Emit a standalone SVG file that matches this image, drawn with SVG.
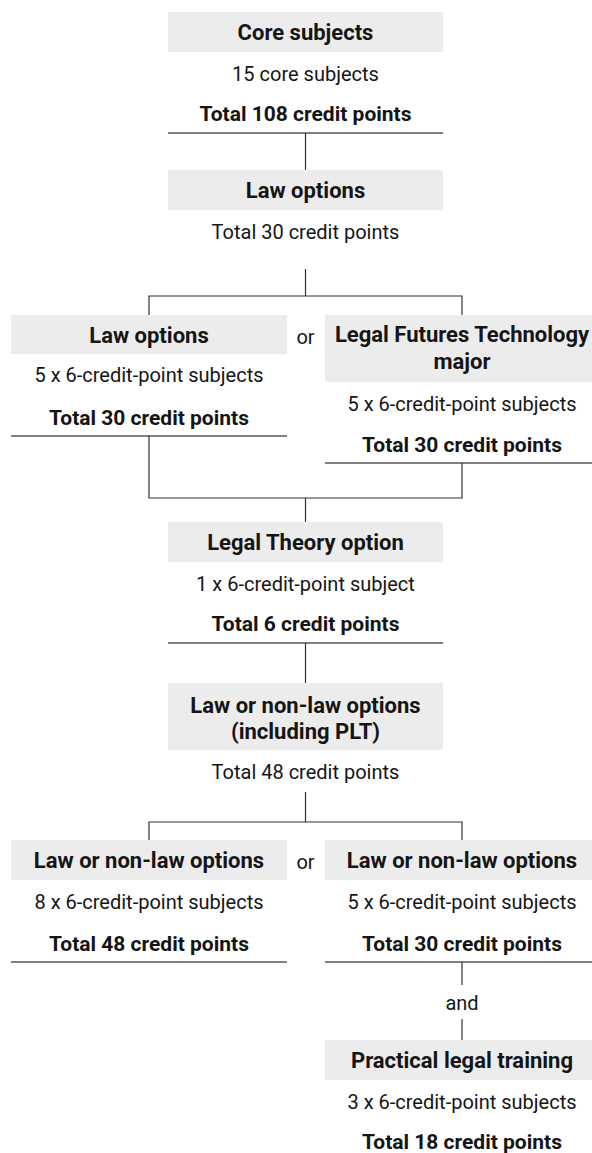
<svg xmlns="http://www.w3.org/2000/svg" width="592" height="1153" viewBox="0 0 592 1153">
<style>
.box{fill:#ececec}
.t{font-family:Roboto,"Liberation Sans",sans-serif;font-size:22px;font-weight:700;fill:#151515;text-anchor:middle}
.s{font-family:Roboto,"Liberation Sans",sans-serif;font-size:20px;font-weight:400;fill:#151515;text-anchor:middle}
.b{font-family:Roboto,"Liberation Sans",sans-serif;font-size:21px;font-weight:700;fill:#151515;text-anchor:middle}
.sep{stroke:#555;stroke-width:1.5;fill:none}
.c{stroke:#333;stroke-width:1.2;fill:none}
</style>
<rect width="592" height="1153" fill="#fff"/>
<g id="core">
<rect class="box" x="168" y="12" width="275" height="40"/>
<text class="t" x="305.5" y="40">Core subjects</text>
<text class="s" x="305.5" y="81">15 core subjects</text>
<text class="b" x="305.5" y="120.5">Total 108 credit points</text>
<line class="sep" x1="168" y1="133" x2="443" y2="133"/>
</g>
<g id="lawoptions">
<rect class="box" x="168" y="170" width="275" height="40"/>
<text class="t" x="305.5" y="198">Law options</text>
<text class="s" x="305.5" y="239">Total 30 credit points</text>
</g>
<g id="lawoptions-left">
<rect class="box" x="11" y="315" width="276" height="39"/>
<text class="t" x="149" y="342.5">Law options</text>
<text class="s" x="149" y="382">5 x 6-credit-point subjects</text>
<text class="b" x="149" y="424.5">Total 30 credit points</text>
<line class="sep" x1="11" y1="436" x2="287" y2="436"/>
</g>
<g id="or1"><text class="s" x="305.5" y="344">or</text></g>
<g id="lft">
<rect class="box" x="325" y="315" width="275" height="67"/>
<text class="t" x="462" y="342">Legal Futures Technology</text>
<text class="t" x="462" y="369">major</text>
<text class="s" x="462" y="411">5 x 6-credit-point subjects</text>
<text class="b" x="462" y="451.5">Total 30 credit points</text>
<line class="sep" x1="325" y1="463" x2="592" y2="463"/>
</g>
<g id="theory">
<rect class="box" x="168" y="522" width="275" height="40"/>
<text class="t" x="305.5" y="550">Legal Theory option</text>
<text class="s" x="305.5" y="591">1 x 6-credit-point subject</text>
<text class="b" x="305.5" y="630.5">Total 6 credit points</text>
<line class="sep" x1="168" y1="643" x2="443" y2="643"/>
</g>
<g id="nonlaw">
<rect class="box" x="168" y="683" width="275" height="67"/>
<text class="t" x="305.5" y="713">Law or non-law options</text>
<text class="t" x="305.5" y="739">(including PLT)</text>
<text class="s" x="305.5" y="779">Total 48 credit points</text>
</g>
<g id="nonlaw-left">
<rect class="box" x="11" y="840" width="276" height="40"/>
<text class="t" x="149" y="868">Law or non-law options</text>
<text class="s" x="149" y="909">8 x 6-credit-point subjects</text>
<text class="b" x="149" y="950.5">Total 48 credit points</text>
<line class="sep" x1="11" y1="962" x2="287" y2="962"/>
</g>
<g id="or2"><text class="s" x="305.5" y="869">or</text></g>
<g id="nonlaw-right">
<rect class="box" x="325" y="840" width="275" height="40"/>
<text class="t" x="462" y="868">Law or non-law options</text>
<text class="s" x="462" y="909">5 x 6-credit-point subjects</text>
<text class="b" x="462" y="950.5">Total 30 credit points</text>
<line class="sep" x1="325" y1="962" x2="592" y2="962"/>
</g>
<g id="and"><text class="s" x="462" y="1010">and</text></g>
<g id="plt">
<rect class="box" x="325" y="1040" width="275" height="40"/>
<text class="t" x="462" y="1068">Practical legal training</text>
<text class="s" x="462" y="1109">3 x 6-credit-point subjects</text>
<text class="b" x="462" y="1148.5">Total 18 credit points</text>
</g>
<g id="connectors">
<line class="c" x1="305.5" y1="133" x2="305.5" y2="170"/>
<polyline class="c" points="305.5,269 305.5,296"/>
<polyline class="c" points="149,315 149,296 462,296 462,315"/>
<polyline class="c" points="149,436 149,498 462,498 462,463"/>
<line class="c" x1="305.5" y1="498" x2="305.5" y2="522"/>
<line class="c" x1="305.5" y1="643" x2="305.5" y2="683"/>
<line class="c" x1="305.5" y1="792" x2="305.5" y2="822"/>
<polyline class="c" points="149,840 149,822 462,822 462,840"/>
<line class="c" x1="462" y1="962" x2="462" y2="985"/>
<line class="c" x1="462" y1="1019" x2="462" y2="1040"/>
</g>
</svg>
